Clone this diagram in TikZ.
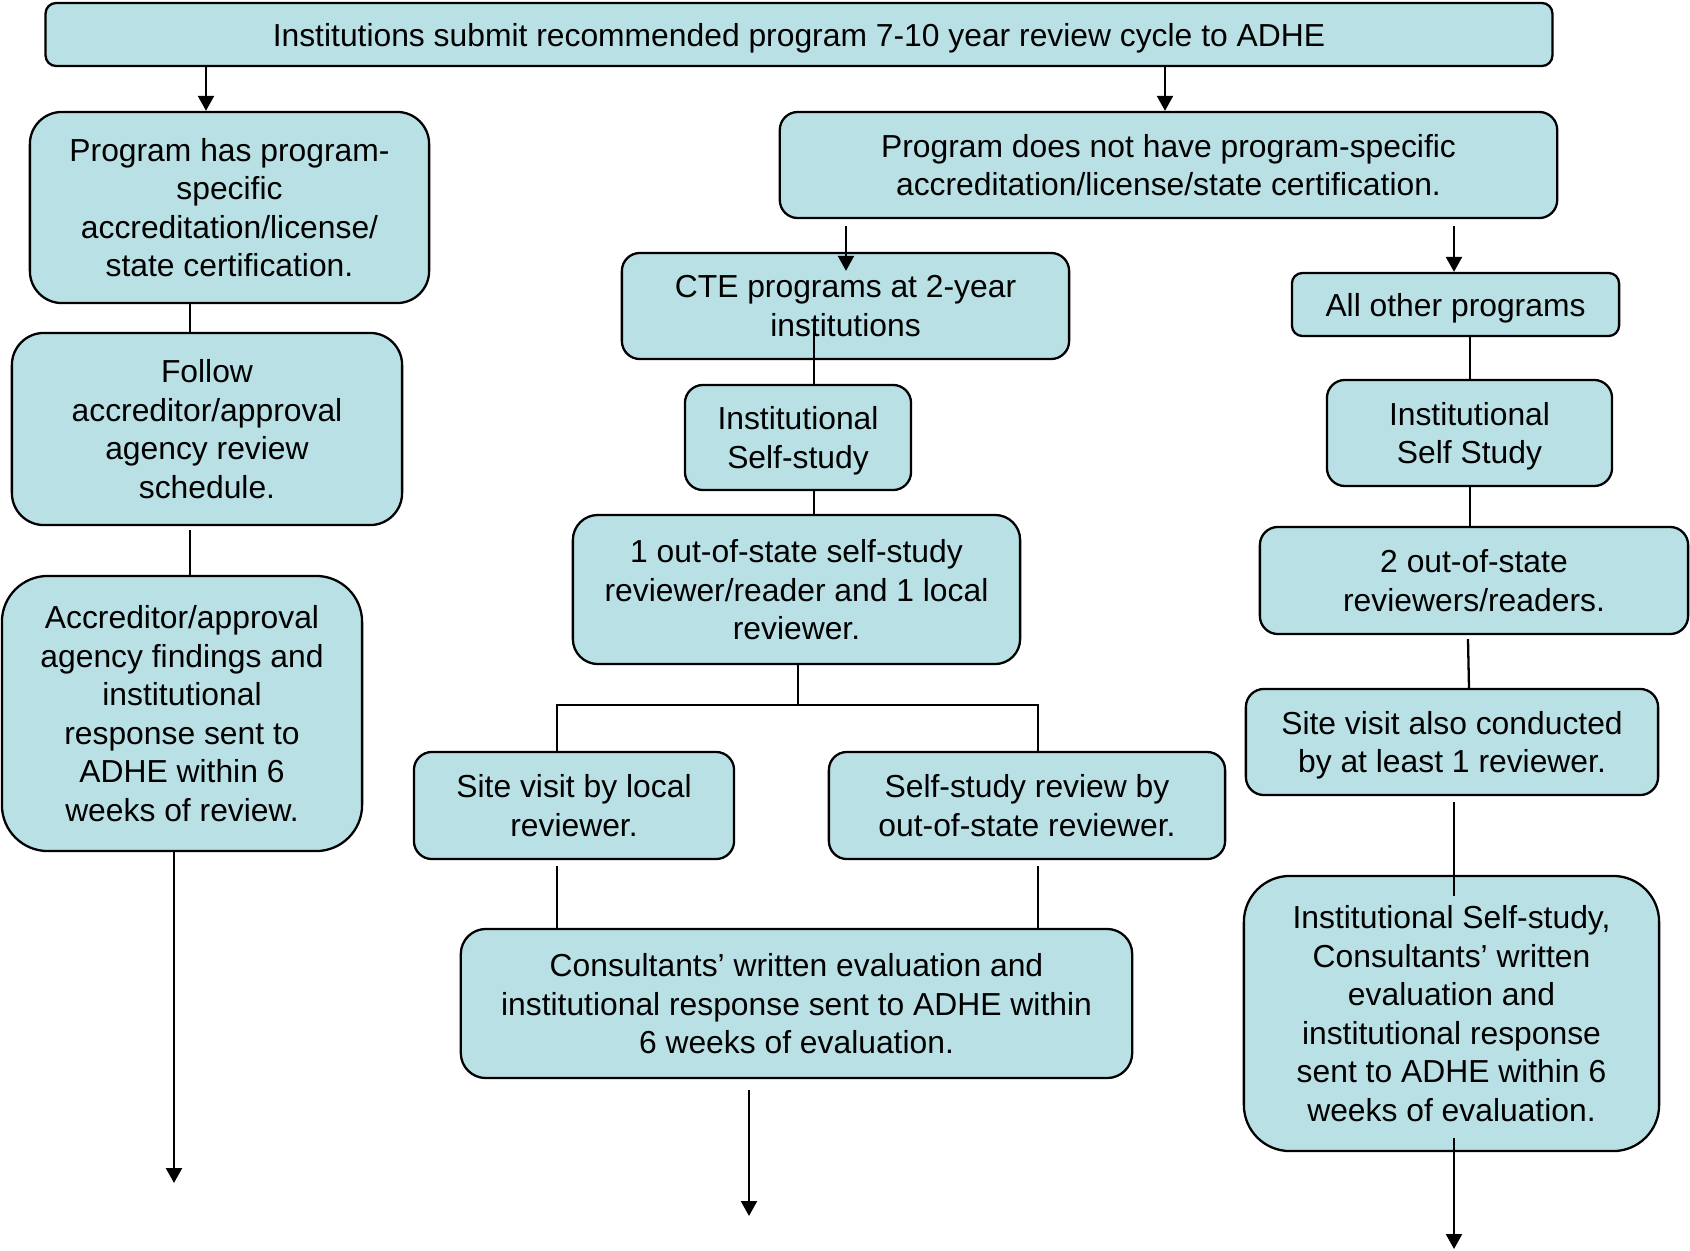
\documentclass[tikz,border=0pt]{standalone}
\usepackage{fontspec}
\setmainfont{Liberation Sans}
\usetikzlibrary{arrows.meta,positioning,calc}
\definecolor{boxblue}{RGB}{185,224,228}
\tikzset{
	flowbox/.style={rectangle, draw=black, line width=0.65pt, rounded corners=1.8mm, fill=boxblue,
		align=center, font=\fontsize{9.05}{10.98}\selectfont, inner sep=2pt, text depth=-1.8pt},
	onerow/.style={text depth=-0.2pt},
	flowline/.style={line width=0.65pt},
	flowarr/.style={-{Triangle[length=1.5mm,width=1.6mm]}, line width=0.65pt}
}

\begin{document}
\begin{tikzpicture}[x=0.01cm, y=-0.01cm]
			\useasboundingbox (0,0) rectangle (1690,1251);
			\node[flowbox, onerow, minimum width=15.06cm, minimum height=0.63cm, rounded corners=1.05mm] (submit) at (799,34.5) {Institutions submit recommended program 7-10 year review cycle to ADHE};
			\node[flowbox, minimum width=3.99cm, minimum height=1.91cm, rounded corners=3.2mm] (hasacc) at (229.5,207.5) {Program has program-\\specific\\accreditation/license/\\state certification.};
			\node[flowbox, minimum width=3.90cm, minimum height=1.92cm, rounded corners=3.2mm] (follow) at (207,429) {Follow\\accreditor/approval\\agency review\\schedule.};
			\node[flowbox, minimum width=3.60cm, minimum height=2.75cm, rounded corners=4.6mm] (findings) at (182,713.5) {Accreditor/approval\\agency findings and\\institutional\\response sent to\\ADHE within 6\\weeks of review.};
			\node[flowbox, minimum width=7.77cm, minimum height=1.06cm] (noacc) at (1168.5,165) {Program does not have program-specific\\accreditation/license/state certification.};
			\node[flowbox, minimum width=4.47cm, minimum height=1.06cm] (cte) at (845.5,306) {CTE programs at 2-year\\institutions};
			\node[flowbox, minimum width=2.26cm, minimum height=1.05cm] (selfcte) at (798,437.5) {Institutional\\Self-study};
			\node[flowbox, minimum width=4.47cm, minimum height=1.49cm, rounded corners=2.5mm] (onelocal) at (796.5,589.5) {1 out-of-state self-study\\reviewer/reader and 1 local\\reviewer.};
			\node[flowbox, minimum width=3.20cm, minimum height=1.07cm] (sitelocal) at (574,805.5) {Site visit by local\\reviewer.};
			\node[flowbox, minimum width=3.96cm, minimum height=1.07cm] (outreview) at (1027,805.5) {Self-study review by\\out-of-state reviewer.};
			\node[flowbox, minimum width=6.71cm, minimum height=1.49cm, rounded corners=2.5mm] (consult) at (796.5,1003.5) {Consultants’ written evaluation and\\institutional response sent to ADHE within\\6 weeks of evaluation.};
			\node[flowbox, onerow, minimum width=3.27cm, minimum height=0.63cm, rounded corners=1.05mm] (allother) at (1455.5,304.5) {All other programs};
			\node[flowbox, minimum width=2.85cm, minimum height=1.06cm] (selfall) at (1469.5,433) {Institutional\\Self Study};
			\node[flowbox, minimum width=4.28cm, minimum height=1.07cm] (twoout) at (1474,580.5) {2 out-of-state\\reviewers/readers.};
			\node[flowbox, minimum width=4.12cm, minimum height=1.06cm] (siteall) at (1452,742) {Site visit also conducted\\by at least 1 reviewer.};
			\node[flowbox, minimum width=4.15cm, minimum height=2.75cm, rounded corners=4.6mm] (sendall) at (1451.5,1013.5) {Institutional Self-study,\\Consultants’ written\\evaluation and\\institutional response\\sent to ADHE within 6\\weeks of evaluation.};
			\coordinate (xl) at (206,0);
			\coordinate (xr) at (1165,0);
			\coordinate (xa) at (190,0);
			\coordinate (xc) at (174,0);
			\coordinate (xcte) at (846,0);
			\coordinate (xall) at (1454,0);
			\coordinate (xe) at (814,0);
			\coordinate (xg) at (798,0);
			\coordinate (xh) at (557,0);
			\coordinate (xi) at (1038,0);
			\coordinate (xj) at (749,0);
			\coordinate (xk) at (1470,0);
			\coordinate (split) at (798,705);
			\coordinate (endA) at (174,1183);
			\coordinate (endM) at (749,1216);
			\coordinate (endR) at (1454,1249);
			\draw[flowarr] (submit.south -| xl) -- (hasacc.north -| xl);
			\draw[flowarr] (submit.south -| xr) -- (noacc.north -| xr);
			\draw[flowline] (hasacc.south -| xa) -- (follow.north -| xa);
			\draw[flowline] ($(follow.south -| xa)+(0,4)$) -- (findings.north -| xa);
			\draw[flowarr] (findings.south -| xc) -- (endA);
			\draw[flowarr] ($(noacc.south -| xcte)+(0,7)$) -- ($(cte.north -| xcte)+(0,19)$);
			\draw[flowarr] ($(noacc.south -| xall)+(0,7)$) -- (allother.north -| xall);
			\draw[flowline] ($(cte.south -| xe)+(0,-36)$) -- (selfcte.north -| xe);
			\draw[flowline] (selfcte.south -| xe) -- (onelocal.north -| xe);
			\draw[flowline] (onelocal.south -| xg) -- (split);
			\draw[flowline] (sitelocal.north -| xh) |- (split) -| (outreview.north -| xi);
			\draw[flowline] ($(sitelocal.south -| xh)+(0,6)$) -- (consult.north -| xh);
			\draw[flowline] ($(outreview.south -| xi)+(0,6)$) -- (consult.north -| xi);
			\draw[flowarr] ($(consult.south -| xj)+(0,11)$) -- (endM);
			\draw[flowline] (allother.south -| xk) -- (selfall.north -| xk);
			\draw[flowline] (selfall.south -| xk) -- (twoout.north -| xk);
			\draw[flowline] ($(twoout.south)+(-6,4)$) -- ($(siteall.north)+(17,0)$);
			\draw[flowline] ($(siteall.south -| xall)+(0,6)$) -- ($(sendall.north -| xall)+(0,21)$);
			\draw[flowarr] ($(sendall.south -| xall)+(0,-14)$) -- (endR);
		\end{tikzpicture}
\end{document}
